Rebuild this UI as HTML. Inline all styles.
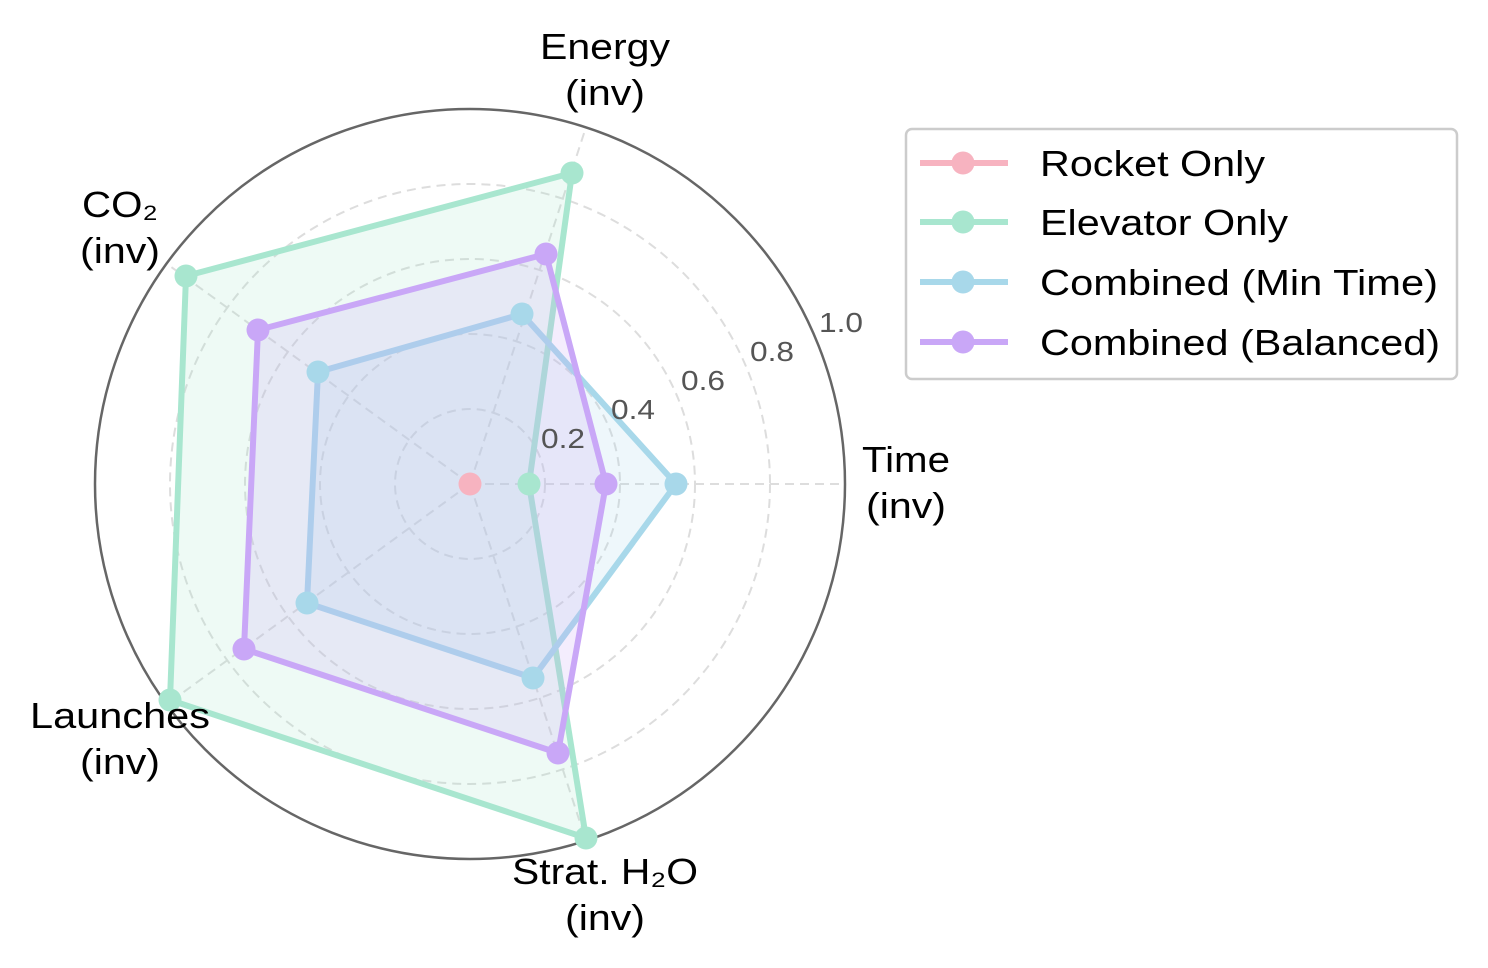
<!DOCTYPE html>
<html><head><meta charset="utf-8"><style>body{margin:0;background:#fff}svg{display:block}text{font-family:"Liberation Sans",Arial,sans-serif}</style></head><body>
<svg width="1488" height="968" viewBox="0 0 1488 968">
<g stroke="#ddd" stroke-width="2" stroke-dasharray="9,6" fill="none">
<circle cx="470" cy="484" r="75"/><circle cx="470" cy="484" r="150"/><circle cx="470" cy="484" r="225"/><circle cx="470" cy="484" r="300"/>
<line x1="470" y1="484" x2="845" y2="484"/>
<line x1="470" y1="484" x2="585.9" y2="127.4"/>
<line x1="470" y1="484" x2="166.6" y2="263.6"/>
<line x1="470" y1="484" x2="166.6" y2="704.4"/>
<line x1="470" y1="484" x2="585.9" y2="840.6"/>
</g>
<circle cx="470" cy="484" r="375" fill="none" stroke="#666" stroke-width="2.5"/>
<g stroke-width="6" stroke-linejoin="round">
<polygon points="529,484 572,173 186,276 170,700 586,838" fill="rgba(168,230,207,0.2)" stroke="#a8e6cf"/>
<polygon points="676,484 522,314 318,372 307,603 533,678" fill="rgba(168,216,234,0.2)" stroke="#a8d8ea"/>
<polygon points="606,484 546,254 258,330 244,649 558,753" fill="rgba(201,167,247,0.2)" stroke="#c9a7f7"/>
</g>
<circle cx="470" cy="484" r="11.5" fill="#f7b3c0"/>
<g fill="#a8e6cf"><circle cx="529" cy="484" r="11.5"/><circle cx="572" cy="173" r="11.5"/><circle cx="186" cy="276" r="11.5"/><circle cx="170" cy="700" r="11.5"/><circle cx="586" cy="838" r="11.5"/></g>
<g fill="#a8d8ea"><circle cx="676" cy="484" r="11.5"/><circle cx="522" cy="314" r="11.5"/><circle cx="318" cy="372" r="11.5"/><circle cx="307" cy="603" r="11.5"/><circle cx="533" cy="678" r="11.5"/></g>
<g fill="#c9a7f7"><circle cx="606" cy="484" r="11.5"/><circle cx="546" cy="254" r="11.5"/><circle cx="258" cy="330" r="11.5"/><circle cx="244" cy="649" r="11.5"/><circle cx="558" cy="753" r="11.5"/></g>
<g fill="#555" font-size="28" text-anchor="middle">
<text x="563" y="448" textLength="44" lengthAdjust="spacingAndGlyphs">0.2</text><text x="633" y="419" textLength="44" lengthAdjust="spacingAndGlyphs">0.4</text><text x="703" y="390" textLength="44" lengthAdjust="spacingAndGlyphs">0.6</text><text x="772" y="361" textLength="44" lengthAdjust="spacingAndGlyphs">0.8</text><text x="841" y="332" textLength="44" lengthAdjust="spacingAndGlyphs">1.0</text>
</g>
<g fill="#000" font-size="36" text-anchor="middle">
<text x="906" y="472" textLength="88" lengthAdjust="spacingAndGlyphs">Time</text><text x="906" y="518" textLength="80" lengthAdjust="spacingAndGlyphs">(inv)</text>
<text x="605" y="59" textLength="130" lengthAdjust="spacingAndGlyphs">Energy</text><text x="605" y="105" textLength="80" lengthAdjust="spacingAndGlyphs">(inv)</text>
<text x="120" y="217" textLength="76" lengthAdjust="spacingAndGlyphs">CO₂</text><text x="120" y="263" textLength="80" lengthAdjust="spacingAndGlyphs">(inv)</text>
<text x="120" y="728" textLength="180" lengthAdjust="spacingAndGlyphs">Launches</text><text x="120" y="774" textLength="80" lengthAdjust="spacingAndGlyphs">(inv)</text>
<text x="605" y="884" textLength="186" lengthAdjust="spacingAndGlyphs">Strat. H₂O</text><text x="605" y="930" textLength="80" lengthAdjust="spacingAndGlyphs">(inv)</text>
</g>
<rect x="906" y="129" width="551" height="250" rx="6" fill="#fff" stroke="#ccc" stroke-width="2.5"/>
<g stroke-width="6">
<line x1="920" y1="163" x2="1008" y2="163" stroke="#f7b3c0"/><circle cx="963" cy="163" r="11.5" fill="#f7b3c0"/>
<line x1="920" y1="222" x2="1008" y2="222" stroke="#a8e6cf"/><circle cx="963" cy="222" r="11.5" fill="#a8e6cf"/>
<line x1="920" y1="282" x2="1008" y2="282" stroke="#a8d8ea"/><circle cx="963" cy="282" r="11.5" fill="#a8d8ea"/>
<line x1="920" y1="342" x2="1008" y2="342" stroke="#c9a7f7"/><circle cx="963" cy="342" r="11.5" fill="#c9a7f7"/>
</g>
<g fill="#000" font-size="36">
<text x="1040" y="176" textLength="225" lengthAdjust="spacingAndGlyphs">Rocket Only</text><text x="1040" y="235" textLength="248" lengthAdjust="spacingAndGlyphs">Elevator Only</text><text x="1040" y="295" textLength="398" lengthAdjust="spacingAndGlyphs">Combined (Min Time)</text><text x="1040" y="355" textLength="400" lengthAdjust="spacingAndGlyphs">Combined (Balanced)</text>
</g>
</svg>
</body></html>
